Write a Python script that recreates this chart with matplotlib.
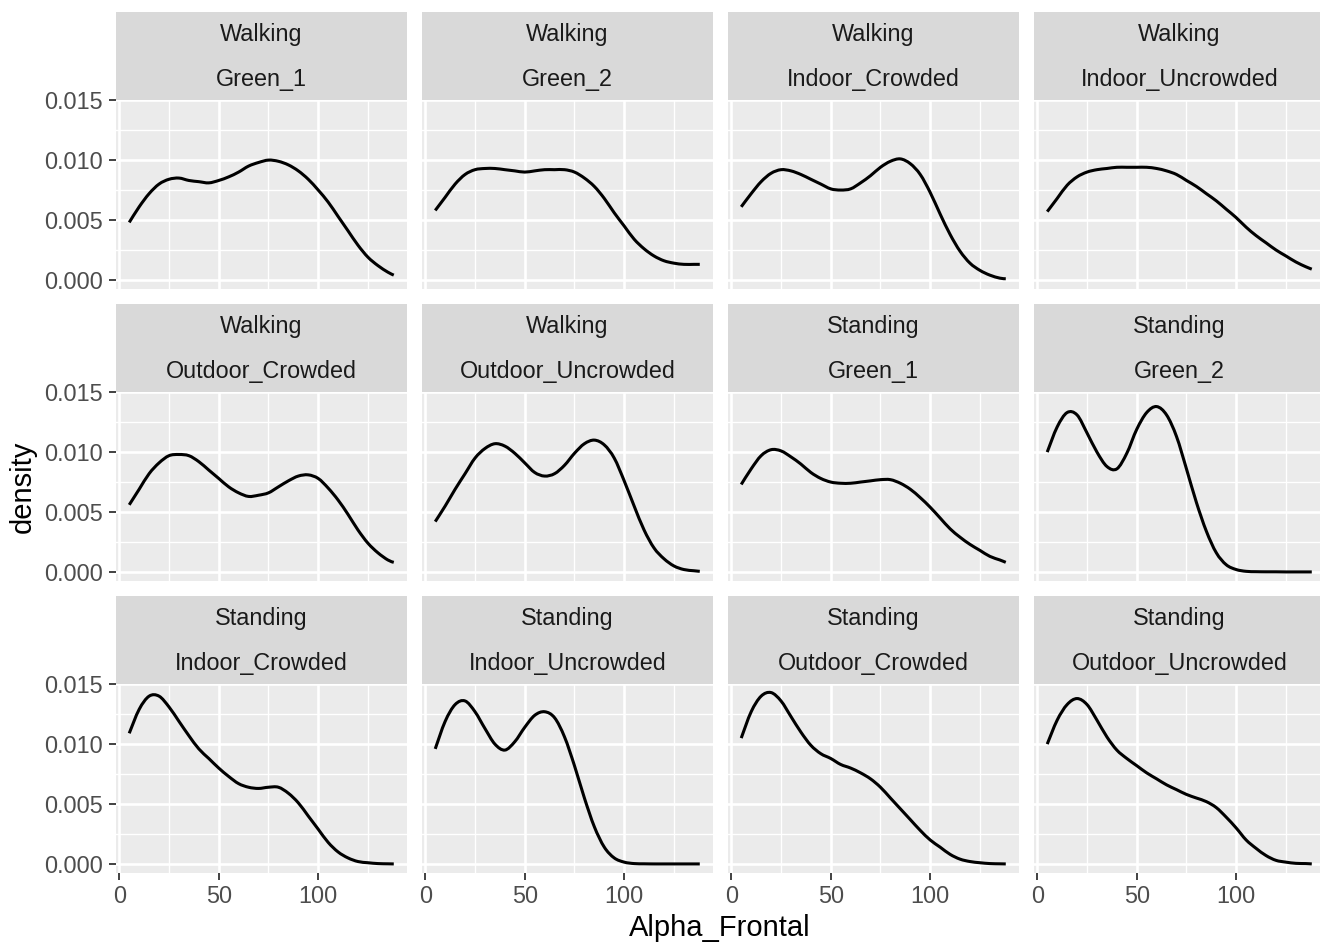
import matplotlib
matplotlib.use("Agg")
import matplotlib.pyplot as plt
from matplotlib.path import Path
from matplotlib.patches import PathPatch
from matplotlib.ticker import FixedLocator, FormatStrFormatter

plt.rcParams["font.family"] = ["Liberation Sans", "DejaVu Sans"]

# Evaluation grid of the density estimates (Alpha_Frontal)
alpha_frontal = [5, 10, 15, 20, 25, 30, 35, 40, 45, 50, 55, 60, 65, 70,
                 75, 80, 85, 90, 95, 100, 105, 110, 115, 120, 125, 130, 135, 138]

activity = ["Walking"] * 6 + ["Standing"] * 6
environment = ["Green_1", "Green_2", "Indoor_Crowded", "Indoor_Uncrowded",
               "Outdoor_Crowded", "Outdoor_Uncrowded"] * 2

walking_green_1 = [0.0048, 0.0061, 0.0072, 0.0080, 0.0084, 0.0085, 0.0083, 0.0082,
                   0.0081, 0.0083, 0.0086, 0.0090, 0.0095, 0.0098, 0.0100, 0.0099,
                   0.0096, 0.0091, 0.0084, 0.0075, 0.0065, 0.0053, 0.0041, 0.0029,
                   0.0019, 0.0012, 0.00065, 0.0004]
walking_green_2 = [0.0058, 0.0069, 0.0080, 0.0088, 0.0092, 0.0093, 0.0093, 0.0092,
                   0.0091, 0.0090, 0.0091, 0.0092, 0.0092, 0.0092, 0.0090, 0.0085,
                   0.0078, 0.0068, 0.0056, 0.0045, 0.0034, 0.0026, 0.0020, 0.0016,
                   0.0014, 0.0013, 0.0013, 0.0013]
walking_indoor_crowded = [0.0061, 0.0072, 0.0082, 0.0089, 0.0092, 0.0091, 0.0088, 0.0084,
                          0.0080, 0.0076, 0.0075, 0.0076, 0.0081, 0.0087, 0.0094, 0.0099,
                          0.0101, 0.0097, 0.0088, 0.0073, 0.0055, 0.0038, 0.0024, 0.0014,
                          0.0008, 0.0004, 0.00015, 0.0001]
walking_indoor_uncrowded = [0.0057, 0.0068, 0.0079, 0.0086, 0.0090, 0.0092, 0.0093, 0.0094,
                            0.0094, 0.0094, 0.0094, 0.0093, 0.0091, 0.0088, 0.0083, 0.0078,
                            0.0072, 0.0066, 0.0059, 0.0052, 0.0044, 0.0037, 0.0031, 0.0025,
                            0.0020, 0.0015, 0.0011, 0.0009]
walking_outdoor_crowded = [0.0056, 0.0069, 0.0082, 0.0091, 0.0097, 0.0098, 0.0097, 0.0092,
                           0.0085, 0.0078, 0.0071, 0.0066, 0.0063, 0.0064, 0.0066, 0.0071,
                           0.0076, 0.0080, 0.0081, 0.0078, 0.0070, 0.0060, 0.0048, 0.0035,
                           0.0024, 0.0016, 0.0010, 0.0008]
walking_outdoor_uncrowded = [0.0042, 0.0055, 0.0069, 0.0082, 0.0095, 0.0103, 0.0107, 0.0105,
                             0.0099, 0.0091, 0.0083, 0.0080, 0.0082, 0.0089, 0.0099, 0.0107,
                             0.0110, 0.0106, 0.0095, 0.0076, 0.0055, 0.0035, 0.0020, 0.0011,
                             0.0005, 0.0002, 0.0001, 0.00005]
standing_green_1 = [0.0073, 0.0086, 0.0097, 0.0102, 0.0101, 0.0096, 0.0090, 0.0083,
                    0.0078, 0.0075, 0.0074, 0.0074, 0.0075, 0.0076, 0.0077, 0.0077,
                    0.0074, 0.0069, 0.0062, 0.0054, 0.0045, 0.0036, 0.0029, 0.0023,
                    0.0018, 0.0013, 0.0010, 0.0008]
standing_green_2 = [0.0100, 0.0121, 0.0133, 0.0131, 0.0116, 0.0100, 0.0088, 0.0086,
                    0.0099, 0.0119, 0.0133, 0.0138, 0.0131, 0.0113, 0.0086, 0.0058,
                    0.0034, 0.0016, 0.0006, 0.0002, 0.00005, 0.00002, 0.00001, 0.00001,
                    0.0, 0.0, 0.0, 0.0]
standing_indoor_crowded = [0.0109, 0.0129, 0.0140, 0.0140, 0.0131, 0.0119, 0.0107, 0.0096,
                           0.0088, 0.0080, 0.0073, 0.0067, 0.0064, 0.0063, 0.0064, 0.0064,
                           0.0059, 0.0051, 0.0040, 0.0029, 0.0018, 0.0010, 0.0005, 0.0002,
                           0.0001, 0.00003, 0.00001, 0.0]
standing_indoor_uncrowded = [0.0096, 0.0119, 0.0133, 0.0136, 0.0127, 0.0113, 0.0100, 0.0095,
                             0.0102, 0.0114, 0.0124, 0.0127, 0.0122, 0.0106, 0.0082, 0.0055,
                             0.0031, 0.0014, 0.0005, 0.00015, 0.00003, 0.00001, 0.0, 0.0,
                             0.0, 0.0, 0.0, 0.0]
standing_outdoor_crowded = [0.0105, 0.0127, 0.0140, 0.0143, 0.0136, 0.0123, 0.0110, 0.0099,
                            0.0092, 0.0088, 0.0083, 0.0080, 0.0076, 0.0071, 0.0064, 0.0055,
                            0.0046, 0.0037, 0.0028, 0.0020, 0.0014, 0.0008, 0.0004, 0.0002,
                            0.0001, 0.00003, 0.00001, 0.0]
standing_outdoor_uncrowded = [0.0100, 0.0120, 0.0133, 0.0138, 0.0133, 0.0120, 0.0106, 0.0095,
                              0.0088, 0.0082, 0.0076, 0.0071, 0.0066, 0.0062, 0.0058, 0.0055,
                              0.0052, 0.0047, 0.0039, 0.0030, 0.0020, 0.0013, 0.0007, 0.0003,
                              0.00015, 0.00005, 0.00003, 0.0]

densities = [walking_green_1, walking_green_2, walking_indoor_crowded,
             walking_indoor_uncrowded, walking_outdoor_crowded, walking_outdoor_uncrowded,
             standing_green_1, standing_green_2, standing_indoor_crowded,
             standing_indoor_uncrowded, standing_outdoor_crowded, standing_outdoor_uncrowded]

x_breaks = [0, 50, 100]
x_minor = [25, 75, 125]
y_breaks = [0.000, 0.005, 0.010, 0.015]
y_minor = [0.0025, 0.0075, 0.0125]

# ---- layout (pixels) ----
W, H = 1320, 943
ncol, nrow = 4, 3
panel_left0, col_pitch, panel_w = 116, 306, 291
panel_top0, row_pitch, panel_h = 100, 292, 188.5
strip_h = 88

STRIP_BG = "#D9D9D9"
PANEL_BG = "#EBEBEB"
TXT_STRIP = "#1A1A1A"
TXT_AXIS = "#4D4D4D"
TICK_COL = "#333333"
FS = 16.8

# shared scales with 5% expansion
x_lo, x_hi = min(alpha_frontal), max(alpha_frontal)
x_pad = 0.05 * (x_hi - x_lo)
y_hi = max(max(d) for d in densities)
y_pad = 0.05 * y_hi

fig = plt.figure(figsize=(W / 100, H / 100), dpi=100)
fig.patch.set_facecolor("white")


def fig_rect(left, top, width, height):
    return [left / W, 1 - (top + height) / H, width / W, height / H]


def smooth_path(xs, ys):
    """Cubic Bezier path through every (x, y) pair (Catmull-Rom tangents)."""
    n = len(xs)
    verts = [(xs[0], ys[0])]
    codes = [Path.MOVETO]
    for i in range(n - 1):
        x0, y0 = xs[max(i - 1, 0)], ys[max(i - 1, 0)]
        x1, y1 = xs[i], ys[i]
        x2, y2 = xs[i + 1], ys[i + 1]
        x3, y3 = xs[min(i + 2, n - 1)], ys[min(i + 2, n - 1)]
        c1 = (x1 + (x2 - x0) / 6.0, y1 + (y2 - y0) / 6.0)
        c2 = (x2 - (x3 - x1) / 6.0, y2 - (y3 - y1) / 6.0)
        verts += [c1, c2, (x2, y2)]
        codes += [Path.CURVE4] * 3
    return Path(verts, codes)


for k, dens in enumerate(densities):
    r, c = divmod(k, ncol)
    left = panel_left0 + c * col_pitch
    top = panel_top0 + r * row_pitch

    # strip with two facet labels
    sax = fig.add_axes(fig_rect(left, top - strip_h, panel_w, strip_h))
    sax.set_facecolor(STRIP_BG)
    sax.set_xticks([])
    sax.set_yticks([])
    for s in sax.spines.values():
        s.set_visible(False)
    sax.text(0.5, 0.74, activity[k], ha="center", va="center",
             fontsize=FS, color=TXT_STRIP, transform=sax.transAxes)
    sax.text(0.5, 0.235, environment[k], ha="center", va="center",
             fontsize=FS, color=TXT_STRIP, transform=sax.transAxes)

    ax = fig.add_axes(fig_rect(left, top, panel_w, panel_h))
    ax.set_facecolor(PANEL_BG)
    for s in ax.spines.values():
        s.set_visible(False)
    ax.set_xlim(x_lo - x_pad, x_hi + x_pad)
    ax.set_ylim(0 - y_pad, y_hi + y_pad)
    ax.xaxis.set_major_locator(FixedLocator(x_breaks))
    ax.xaxis.set_minor_locator(FixedLocator(x_minor))
    ax.yaxis.set_major_locator(FixedLocator(y_breaks))
    ax.yaxis.set_minor_locator(FixedLocator(y_minor))
    ax.yaxis.set_major_formatter(FormatStrFormatter("%.3f"))
    ax.grid(which="major", color="white", linewidth=1.9)
    ax.grid(which="minor", color="white", linewidth=0.95)
    ax.set_axisbelow(True)
    ax.tick_params(which="minor", length=0)
    ax.tick_params(which="major", length=5.2, width=1.3, color=TICK_COL,
                   labelcolor=TXT_AXIS, labelsize=FS, pad=4.0)

    if c != 0:
        ax.tick_params(axis="y", which="major", length=0, labelleft=False)
    if r != nrow - 1:
        ax.tick_params(axis="x", which="major", length=0, labelbottom=False)

    ax.add_patch(PathPatch(smooth_path(alpha_frontal, dens), facecolor="none",
                           edgecolor="black", linewidth=2.2,
                           joinstyle="round", capstyle="butt"))

fig.text(720 / W, 1 - 928 / H, "Alpha_Frontal", ha="center", va="center",
         fontsize=21, color="black")
fig.text(23 / W, 1 - 487 / H, "density", ha="center", va="center",
         rotation=90, fontsize=21, color="black")

fig.savefig("out.png", dpi=100, facecolor="white")
